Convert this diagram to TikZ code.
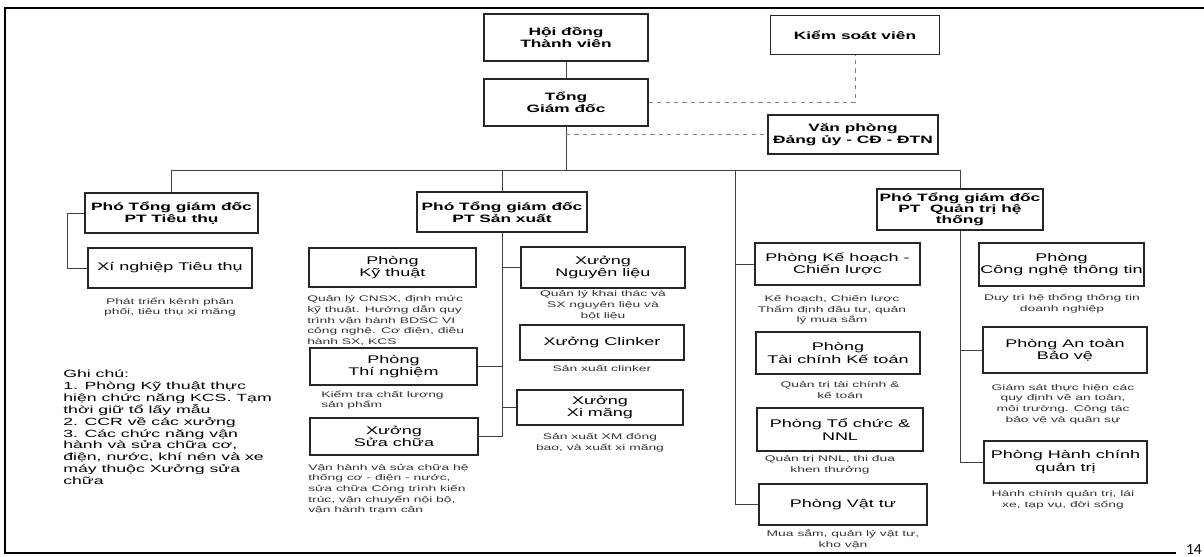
\documentclass[tikz,border=0pt]{standalone}
\usepackage{fontspec}
\setmainfont{Liberation Sans}[FakeStretch=1.62]
\newfontfamily\notefont{Liberation Sans}[FakeStretch=1.7]
\newfontfamily\pagefont{Carlito}
\usetikzlibrary{positioning}

\begin{document}
\begin{tikzpicture}[x=0.025cm, y=-0.025cm,
      unit/.style={
        rectangle, draw=black!85, line width=0.9pt,
        align=center, inner sep=1pt,
        font=\fontsize{7.9}{8.8}\selectfont
      },
      head/.style={
        unit, font=\bfseries\fontsize{7.6}{8.8}\selectfont
      },
      duty/.style={
        font=\notefont\fontsize{5.8}{7.6}\selectfont, text=black!80,
        align=center, inner sep=0pt
      },
      link/.style={draw=black!75, line width=0.6pt},
      dlink/.style={draw=black!50, dashed, line width=0.6pt},
      frame/.style={line width=1.4pt}
    ]
    \useasboundingbox (0,0) rectangle (1204,557);

    % --- slide frame ---
    \draw[frame] (1204,8) -- (5,8) -- (5,553) -- (1176,553);
    \node[font=\pagefont\fontsize{11}{11}\selectfont, anchor=south east, inner sep=0pt] (page) at (1202,555) {14};

    % --- Top level ---
    \node[head, minimum width=4.1cm,   minimum height=1.175cm] (hdtv) at (566,37.5)  {Hội đồng\\Thành viên};
    \node[head, minimum width=4.225cm, minimum height=0.975cm] (ksv)  at (855,35)    {Kiểm soát viên};
    \node[head, minimum width=4.1cm,   minimum height=1.175cm] (tgd)  at (566,102.5) {Tổng\\Giám đốc};
    \node[head, minimum width=4.25cm,  minimum height=0.975cm] (vp)   at (853,134.5) {Văn phòng\\Đảng ủy - CĐ - ĐTN};

    % --- Deputy directors ---
    \node[head, minimum width=4.325cm, minimum height=1.0cm]   (pttt) at (171.5,213) {Phó Tổng giám đốc\\PT Tiêu thụ};
    \node[head, minimum width=4.25cm,  minimum height=1.0cm]   (ptsx) at (502,212)   {Phó Tổng giám đốc\\PT Sản xuất};
    \node[head, minimum width=4.15cm,  minimum height=1.025cm, font=\bfseries\fontsize{7.6}{7.9}\selectfont] (ptqt) at (960,209.5) {Phó Tổng giám đốc\\PT \ Quản trị hệ\\thống};

    % --- Tieu thu ---
    \node[unit, minimum width=4.1cm, minimum height=1.0cm] (xntt) at (170,268) {Xí nghiệp Tiêu thụ};
    \node[duty] (dxntt) at (170,307) {Phát triển kênh phân\\phối, tiêu thụ xi măng};

    % --- San xuat ---
    \node[unit, minimum width=4.175cm, minimum height=0.975cm] (kythuat)    at (392.5,267.5) {Phòng\\Kỹ thuật};
    \node[unit, minimum width=4.175cm, minimum height=0.925cm] (thinghiem)  at (393.5,366.5) {Phòng\\Thí nghiệm};
    \node[unit, minimum width=4.2cm,   minimum height=0.925cm] (suachua)    at (394,436.5)   {Xưởng\\Sửa chữa};
    \node[unit, minimum width=4.1cm,   minimum height=1.025cm] (nguyenlieu) at (603,267.5)   {Xưởng\\Nguyên liệu};
    \node[unit, minimum width=4.1cm,   minimum height=0.875cm] (clinker)    at (602,342.5)   {Xưởng Clinker};
    \node[unit, minimum width=4.15cm,  minimum height=0.875cm] (ximang)     at (600,407.5)   {Xưởng\\Xi măng};

    \node[duty, align=left, anchor=west] (dkythuat) at (307,320.5)
      {Quản lý CNSX, định mức\\kỹ thuật. Hướng dẫn quy\\trình vận hành BDSC VI\\công nghệ. Cơ điện, điều\\hành SX, KCS};
    \node[duty, align=left, anchor=west] (dthinghiem) at (321,400) {Kiểm tra chất lượng\\sản phẩm};
    \node[duty, align=left, anchor=west] (dsuachua) at (308,489)
      {Vận hành và sửa chữa hệ\\thống cơ - điện - nước,\\sửa chữa Công trình kiến\\trúc, vận chuyển nội bộ,\\vận hành trạm cân};
    \node[duty] (dnguyenlieu) at (603,305) {Quản lý khai thác và\\SX nguyên liệu và\\bột liệu};
    \node[duty] (dclinker)    at (602,368) {Sản xuất clinker};
    \node[duty] (dximang)     at (600,443) {Sản xuất XM đóng\\bao, và xuất xi măng};

    % --- Quan tri he thong ---
    \node[unit, minimum width=4.125cm, minimum height=1.05cm]  (kehoach)   at (837.5,264)  {Phòng Kế hoạch -\\Chiến lược};
    \node[unit, minimum width=4.1cm,   minimum height=1.05cm]  (taichinh)  at (838,353)    {Phòng\\Tài chính Kế toán};
    \node[unit, minimum width=4.15cm,  minimum height=1.075cm] (tochuc)    at (840,429.5)  {Phòng Tổ chức \&\\NNL};
    \node[unit, minimum width=4.2cm,   minimum height=1.025cm] (vattu)     at (843,504.5)  {Phòng Vật tư};
    \node[unit, minimum width=3.925cm, minimum height=1.075cm] (cntt)      at (1061.5,264.5) {Phòng\\Công nghệ thông tin};
    \node[unit, minimum width=4.1cm,   minimum height=1.15cm]  (antoan)    at (1065,350)   {Phòng An toàn\\Bảo vệ};
    \node[unit, minimum width=4.075cm, minimum height=1.05cm]  (hanhchinh) at (1065.5,462) {Phòng Hành chính\\quản trị};

    \node[duty] (dkehoach)   at (832,310)    {Kế hoạch, Chiến lược\\Thẩm định đầu tư, quản\\lý mua sắm};
    \node[duty] (dtaichinh)  at (840,390)    {Quản trị tài chính \&\\kế toán};
    \node[duty] (dtochuc)    at (830,465)    {Quản trị NNL, thi đua\\khen thưởng};
    \node[duty] (dvattu)     at (843,539)    {Mua sắm, quản lý vật tư,\\kho vận};
    \node[duty] (dcntt)      at (1062,304)   {Duy trì hệ thống thông tin\\doanh nghiệp};
    \node[duty] (dantoan)    at (1063,404)   {Giám sát thực hiện các\\quy định về an toàn,\\môi trường. Công tác\\bảo vệ và quân sự};
    \node[duty] (dhanhchinh) at (1063,500)   {Hành chính quản trị, lái\\xe, tạp vụ, đời sống};

    % --- Notes ---
    \node[font=\notefont\fontsize{7.4}{8.4}\selectfont, align=left, anchor=north west, inner sep=0pt] (ghichu) at (63,370)
      {Ghi chú:\\1. Phòng Kỹ thuật thực\\hiện chức năng KCS. Tạm\\thời giữ tổ lấy mẫu\\2. CCR về các xưởng\\3. Các chức năng vận\\hành và sửa chữa cơ,\\điện, nước, khí nén và xe\\máy thuộc Xưởng sửa\\chữa};

    % --- Connectors ---
    \coordinate (bus) at (566,170);
    \coordinate (qtl) at (735,170);
    \draw[link] (hdtv) -- (tgd);
    \draw[dlink] (tgd.east) -| (ksv.south);
    \draw[link] (tgd) -- (bus);
    \draw[dlink] (tgd.south |- vp.west) -- (vp.west);
    \draw[link] (pttt.north |- bus) -- (ptqt.north |- bus);
    \draw[link] (pttt.north |- bus) -- (pttt.north);
    \draw[link] (ptsx.north |- bus) -- (ptsx.north);
    \draw[link] (ptqt.north |- bus) -- (ptqt.north);

    \draw[link] (pttt.west) -- ++(-17,0) |- (xntt.west);

    \draw[link] (ptsx.south) -- (ptsx.south |- suachua.east) -- (suachua.east);
    \draw[link] (ptsx.south |- nguyenlieu.west) -- (nguyenlieu.west);
    \draw[link] (ptsx.south |- thinghiem.east) -- (thinghiem.east);
    \draw[link] (ptsx.south |- ximang.west) -- (ximang.west);

    \draw[link] (qtl) |- (vattu.west);
    \draw[link] (qtl |- kehoach.west) -- (kehoach.west);

    \draw[link] (ptqt.south) |- (hanhchinh.west);
    \draw[link] (ptqt.south |- antoan.west) -- (antoan.west);

  \end{tikzpicture}
\end{document}
